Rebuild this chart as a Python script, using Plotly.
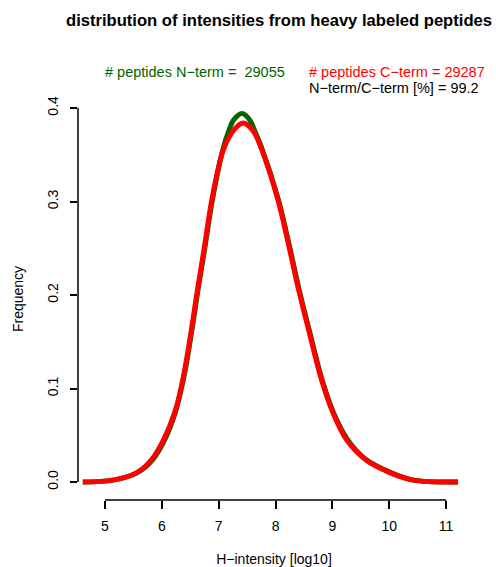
import plotly.graph_objects as go

# Data (density curves)
n_term_x = [4.61, 5.14, 5.57, 5.84, 6.04, 6.24, 6.39, 6.53, 6.64, 6.75, 6.89, 7.07, 7.18, 7.26,
            7.41, 7.55, 7.63, 7.77, 8.05, 8.22, 8.41, 8.59, 8.82, 9.02, 9.27, 9.59, 10.03, 10.43, 11.21]
n_term_y = [0.000, 0.002, 0.010, 0.024, 0.044, 0.075, 0.113, 0.163, 0.207, 0.248, 0.302, 0.355, 0.376, 0.387,
            0.394, 0.387, 0.376, 0.355, 0.302, 0.259, 0.207, 0.163, 0.109, 0.074, 0.045, 0.024, 0.010, 0.002, 0.000]

c_term_x = [4.61, 5.14, 5.56, 5.82, 6.02, 6.23, 6.38, 6.52, 6.63, 6.74, 6.88, 7.08, 7.26, 7.43,
            7.60, 7.76, 8.04, 8.21, 8.40, 8.58, 8.81, 9.01, 9.25, 9.58, 10.01, 10.42, 11.21]
c_term_y = [0.000, 0.002, 0.010, 0.024, 0.044, 0.075, 0.113, 0.163, 0.207, 0.248, 0.302, 0.355, 0.376, 0.384,
            0.376, 0.355, 0.302, 0.259, 0.207, 0.163, 0.109, 0.074, 0.045, 0.024, 0.010, 0.002, 0.000]

x_ticks = [5, 6, 7, 8, 9, 10, 11]
y_ticks = [0.0, 0.1, 0.2, 0.3, 0.4]
y_tick_labels = ["0.0", "0.1", "0.2", "0.3", "0.4"]

n_count = 29055
c_count = 29287
ratio = 99.2

FONT = "Liberation Sans, Arial, sans-serif"
GREEN = "#006400"
RED = "#ff0000"

fig = go.Figure()
fig.add_trace(go.Scatter(x=n_term_x, y=n_term_y, mode="lines",
                         line=dict(color=GREEN, width=5, shape="spline", smoothing=1.0),
                         showlegend=False, hoverinfo="skip"))
fig.add_trace(go.Scatter(x=c_term_x, y=c_term_y, mode="lines",
                         line=dict(color=RED, width=5, shape="spline", smoothing=1.0),
                         showlegend=False, hoverinfo="skip"))

# R-style axis lines spanning only first to last tick
fig.add_shape(type="line", xref="x", yref="paper", x0=x_ticks[0], x1=x_ticks[-1], y0=0, y1=0,
              line=dict(color="black", width=1.5))
fig.add_shape(type="line", xref="paper", yref="y", x0=0, x1=0, y0=y_ticks[0], y1=y_ticks[-1],
              line=dict(color="black", width=1.5))

fig.update_layout(
    width=496, height=567,
    margin=dict(l=78, r=26, t=98, b=67, autoexpand=False),
    paper_bgcolor="white", plot_bgcolor="white",
    font=dict(family=FONT, color="black", size=14),
    title=dict(text="<b>distribution of intensities from heavy labeled peptides</b>",
               x=279/496, xanchor="center", y=1 - 20/567, yanchor="middle",
               font=dict(size=16.6, family=FONT, color="black")),
    xaxis=dict(range=[4.525, 11.42], tickvals=x_ticks, ticks="outside", ticklen=8,
               tickwidth=1.5, tickcolor="black", showline=False, showgrid=False,
               zeroline=False, tickfont=dict(size=14), ticklabelstandoff=5, automargin=False,
               title=dict(text="H\u2212intensity [log10]", font=dict(size=14), standoff=33)),
    yaxis=dict(range=[-0.01925, 0.4107], tickvals=y_ticks, ticktext=y_tick_labels,
               ticks="outside", ticklen=7, tickwidth=1.5, tickcolor="black",
               showline=False, showgrid=False, zeroline=False, tickangle=-90,
               tickfont=dict(size=14), ticklabelstandoff=6, automargin=False,
               title=dict(text="Frequency", font=dict(size=14), standoff=18)),
)

fig.add_annotation(xref="paper", yref="paper", x=25/392, y=(500-72)/402, xanchor="left",
                   yanchor="middle", showarrow=False,
                   text=f"# peptides N\u2212term =  {n_count}", font=dict(color=GREEN, size=14.5))
fig.add_annotation(xref="paper", yref="paper", x=229/392, y=(500-72)/402, xanchor="left",
                   yanchor="middle", showarrow=False,
                   text=f"# peptides C\u2212term = {c_count}", font=dict(color=RED, size=14.5))
fig.add_annotation(xref="paper", yref="paper", x=229/392, y=(500-88)/402, xanchor="left",
                   yanchor="middle", showarrow=False,
                   text=f"N\u2212term/C\u2212term [%] = {ratio}", font=dict(color="black", size=14.5))

fig.write_html("out.html")
